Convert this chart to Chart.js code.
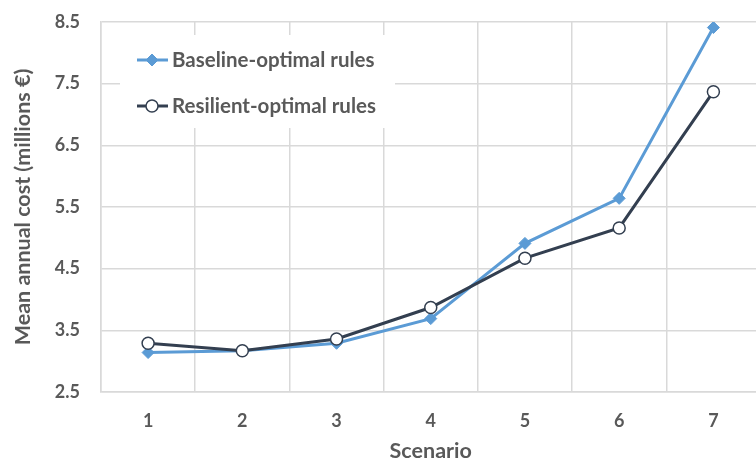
<!DOCTYPE html>
<html>
<head>
<meta charset="utf-8">
<script src="https://cdn.jsdelivr.net/npm/chart.js@4"></script>
<style>
  html, body { margin: 0; padding: 0; background: #fff; overflow: hidden; }
  #wrap { width: 768px; height: 458px; position: relative; }
</style>
</head>
<body>
<div id="wrap"><canvas id="costChart"></canvas></div>
<script>
// data
const scenarios = ['1', '2', '3', '4', '5', '6', '7'];
const baselineCost = [3.14, 3.17, 3.29, 3.69, 4.91, 5.64, 8.41];
const resilientCost = [3.29, 3.17, 3.36, 3.87, 4.67, 5.16, 7.37];
const yMin = 2.5, yMax = 8.5, yStep = 1;

const textGrey = '#595959';
const gridGrey = '#d9d9d9';
const tickFont = { family: 'Lato', size: 18, weight: 'bold' };
const titleFont = { family: 'Lato', size: 21.5, weight: 'bold' };

// legend sits inside the plot on a white box, like the original
const insideLegend = {
    id: 'insideLegend',
    afterDatasetsDraw(chart) {
        const c = chart.ctx;
        c.save();
        c.fillStyle = '#fff';
        c.fillRect(120, 35, 275, 93);
        chart.data.datasets.forEach((ds, i) => {
            const y = 60 + i * 46;
            c.strokeStyle = ds.borderColor;
            c.lineWidth = 3;
            c.beginPath();
            c.moveTo(137, y);
            c.lineTo(168, y);
            c.stroke();
            c.fillStyle = ds.pointBackgroundColor;
            c.strokeStyle = ds.pointBorderColor;
            c.lineWidth = ds.pointBorderWidth;
            c.beginPath();
            if (ds.pointStyle === 'rectRot') {
                const r = ds.pointRadius;
                c.moveTo(152, y - r); c.lineTo(152 + r, y);
                c.lineTo(152, y + r); c.lineTo(152 - r, y);
                c.closePath();
            } else {
                c.arc(152, y, ds.pointRadius, 0, Math.PI * 2);
            }
            c.fill();
            c.stroke();
            c.fillStyle = textGrey;
            c.font = 'bold 20.5px Lato';
            c.textBaseline = 'middle';
            c.fillText(ds.label, 172, y);
        });
        c.restore();
    }
};

const ctx = document.getElementById('costChart').getContext('2d');
const costChart = new Chart(ctx, {
    type: 'line',
    data: {
        labels: scenarios,
        datasets: [
            {
                label: 'Baseline-optimal rules',
                data: baselineCost,
                order: 1,
                borderColor: '#5b9bd5',
                borderWidth: 3,
                pointStyle: 'rectRot',
                pointRadius: 6,
                pointBackgroundColor: '#5b9bd5',
                pointBorderColor: '#5b9bd5',
                pointBorderWidth: 1,
                tension: 0
            },
            {
                label: 'Resilient-optimal rules',
                data: resilientCost,
                order: 0,
                borderColor: '#333f50',
                borderWidth: 3,
                pointStyle: 'circle',
                pointRadius: 6,
                pointBackgroundColor: '#ffffff',
                pointBorderColor: '#333f50',
                pointBorderWidth: 1.5,
                tension: 0
            }
        ]
    },
    options: {
        responsive: true,
        maintainAspectRatio: false,
        animation: false,
        layout: { padding: { top: 22, right: 2, left: 0, bottom: 0 } },
        plugins: {
            legend: { display: false },
            tooltip: { enabled: false }
        },
        scales: {
            x: {
                type: 'category',
                offset: true,
                grid: { offset: true, color: gridGrey, lineWidth: 1.5, drawTicks: false },
                border: { color: gridGrey, width: 1.5 },
                ticks: { color: textGrey, font: tickFont, padding: 18 },
                title: { display: true, text: 'Scenario', color: textGrey, font: titleFont, padding: { top: 4, bottom: -6 } },
                afterFit(scale) { scale.height = 66; scale.paddingLeft = 0; scale.paddingRight = 0; }
            },
            y: {
                min: yMin,
                max: yMax,
                grid: { color: gridGrey, lineWidth: 1.5, drawTicks: false },
                border: { color: gridGrey, width: 1.5 },
                ticks: {
                    stepSize: yStep,
                    color: textGrey,
                    font: tickFont,
                    padding: 21,
                    callback: v => v.toFixed(1)
                },
                title: { display: true, text: 'Mean annual cost (millions €)', color: textGrey, font: titleFont, padding: { top: 10, bottom: 0 } },
                afterFit(scale) { scale.width = 101; scale.paddingTop = 0; scale.paddingBottom = 0; }
            }
        }
    },
    plugins: [insideLegend]
});
</script>
</body>
</html>
